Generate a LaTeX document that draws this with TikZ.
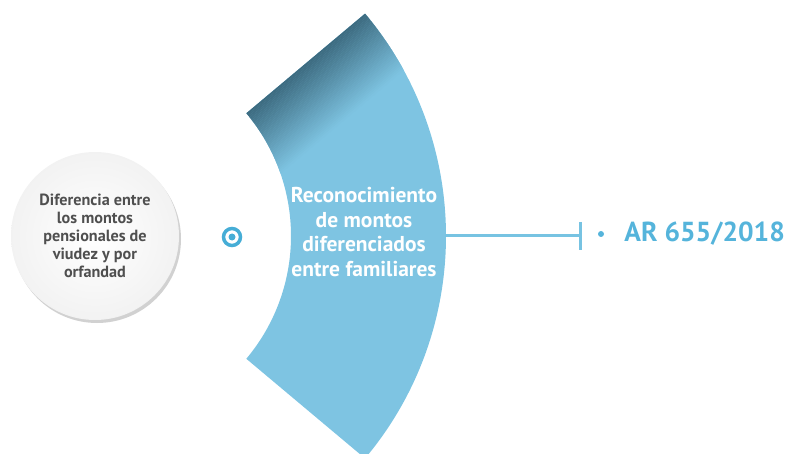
\documentclass[tikz,border=0pt]{standalone}
\usepackage{fontspec}
\setmainfont{PT Sans}
\usepackage{tikz}
\usetikzlibrary{positioning}
\usetikzlibrary{calc,shadows}

\definecolor{BandBlue}{HTML}{7EC4E2}
\definecolor{BandDark}{HTML}{3D6B80}
\definecolor{RefBlue}{HTML}{55B4DB}
\definecolor{RingBlue}{HTML}{46ADD6}
\definecolor{CauseGray}{HTML}{4F4F4F}

\tikzset{
	CauseCircle/.style={circle, minimum size=168pt, inner sep=0pt, align=center,
		inner color=white, outer color=gray!10,
		drop shadow={shadow xshift=2pt, shadow yshift=-3pt, fill=gray!45, opacity=0.8},
		text=CauseGray, font=\fontsize{16.2}{18}\selectfont\bfseries},
	BandText/.style={align=center, inner sep=0pt, text=white,
		font=\fontsize{21.5}{24.5}\selectfont\bfseries},
	RefLine/.style={RefBlue!80!white, line width=3pt},
	RefText/.style={inner sep=0pt, text=RefBlue, font=\fontsize{27.5}{30}\selectfont\bfseries},
}

\begin{document}
\begin{tikzpicture}[x=1pt,y=1pt]
	\useasboundingbox (0,0) rectangle (792,453);

	% the two arcs of the band are centred on (C)
	\coordinate (C) at (100,217);

	% band: outer radius 346, inner radius 191, from -40 to 40 degrees
	\fill[BandBlue] ($(C)+(40:346)$) arc (40:-40:346)
		-- ($(C)+(-40:191)$) arc (-40:40:191) -- cycle;
	\begin{scope}
		\clip ($(C)+(40:346)$) arc (40:-40:346)
			-- ($(C)+(-40:191)$) arc (-40:40:191) -- cycle;
		% darker shade along the upper cut, built from thin strips
		\foreach \i in {0,...,39}{
			\pgfmathtruncatemacro{\p}{100-2.5*\i}
			\fill[shift={(C)}, rotate=40, BandDark!\p!BandBlue]
				(150,{-1.7*\i}) rectangle (400,{-1.7*\i-1.9});
		}
	\end{scope}

	% cause on the left
	\node[CauseCircle] (Cause) at (95,217)
		{Diferencia entre\\los montos\\pensionales de\\viudez y por\\orfandad};

	% small ring
	\node[draw=RingBlue, line width=3.5pt, circle, minimum size=17pt, inner sep=0pt] (Ring) at (232,216) {};
	\fill[RingBlue] (Ring.center) circle (3.5);

	\node[BandText] (BandLabel) at (364,221)
		{Reconocimiento\\de montos\\diferenciados\\entre familiares};

	% connector to the reference
	\coordinate (BandEdge) at ($(C)+(0:345)$);
	\coordinate (Tick) at (580,217);
	\coordinate (TickTop) at (580,231);
	\coordinate (TickBot) at (580,203);
	\draw[RefLine] (BandEdge) -- (Tick);
	\draw[RefLine] (TickTop) -- (TickBot);

	\node[circle, fill=RefBlue, inner sep=0pt, minimum size=6pt] (Bullet) at (601,219) {};
	\node[RefText, right=20pt of Bullet] (RefLabel) {AR 655/2018};
\end{tikzpicture}
\end{document}
